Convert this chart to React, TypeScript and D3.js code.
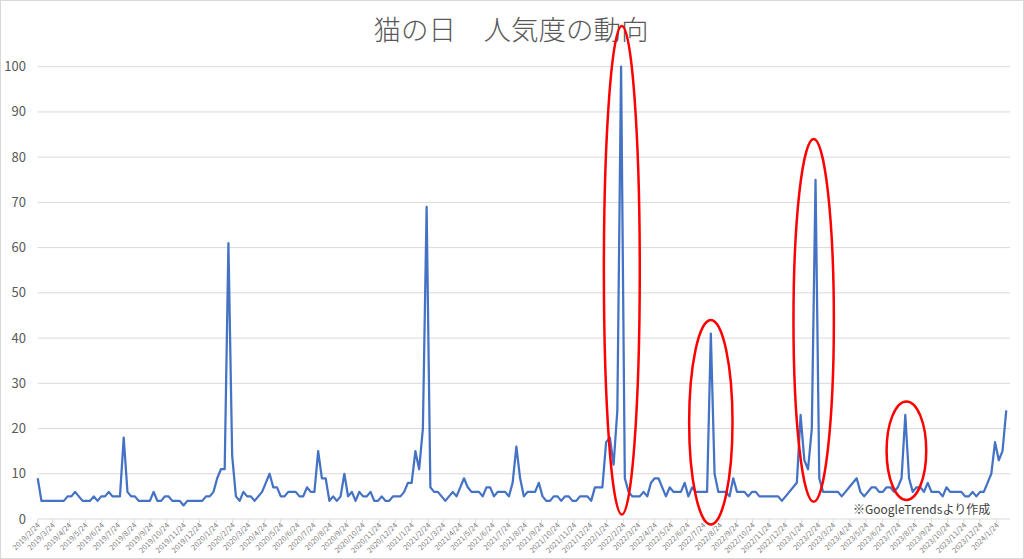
import React from "react";
import * as d3 from "d3";

const W = 1024;
const H = 559;

const startDate = new Date(Date.UTC(2019, 1, 24));
const endDate = new Date(Date.UTC(2024, 1, 18));

// weekly Google Trends values, starting week of 2019/2/24
const values: number[] = [
  9, 4, 4, 4, 4, 4, 4, 4, 5, 5, 6, 5, 4, 4, 4, 5, 4, 5, 5, 6,
  5, 5, 5, 18, 6, 5, 5, 4, 4, 4, 4, 6, 4, 4, 5, 5, 4, 4, 4, 3,
  4, 4, 4, 4, 4, 5, 5, 6, 9, 11, 11, 61, 14, 5, 4, 6, 5, 5, 4, 5,
  6, 8, 10, 7, 7, 5, 5, 6, 6, 6, 5, 5, 7, 6, 6, 15, 9, 9, 4, 5,
  4, 5, 10, 5, 6, 4, 6, 5, 5, 6, 4, 4, 5, 4, 4, 5, 5, 5, 6, 8,
  8, 15, 11, 20, 69, 7, 6, 6, 5, 4, 5, 6, 5, 7, 9, 7, 6, 6, 6, 5,
  7, 7, 5, 6, 6, 6, 5, 8, 16, 9, 5, 6, 6, 6, 8, 5, 4, 4, 5, 5,
  4, 5, 5, 4, 4, 5, 5, 5, 4, 7, 7, 7, 17, 18, 12, 24, 100, 9, 6, 5,
  5, 5, 6, 5, 8, 9, 9, 7, 5, 7, 6, 6, 6, 8, 5, 7, 6, 6, 6, 6,
  41, 10, 6, 6, 6, 5, 9, 6, 6, 6, 5, 6, 6, 5, 5, 5, 5, 5, 5, 4,
  5, 6, 7, 8, 23, 13, 11, 20, 75, 9, 6, 6, 6, 6, 6, 5, 6, 7, 8, 9,
  6, 5, 6, 7, 7, 6, 6, 7, 7, 6, 7, 9, 23, 9, 6, 7, 7, 6, 8, 6,
  6, 6, 5, 7, 6, 6, 6, 6, 5, 5, 6, 5, 6, 6, 8, 10, 17, 13, 15, 24,
];

const yTicks: number[] = [0, 10, 20, 30, 40, 50, 60, 70, 80, 90, 100];

// red annotation ellipses: week index of spike, value span, half width in weeks
const circleIdx: number[] = [156, 180, 208, 232];
const circleLo: number[] = [1, -1.2, 3.8, 4.2];
const circleHi: number[] = [109, 44, 84, 26];
const circleHalfWeeks: number[] = [4.8, 5.8, 5.4, 5.3];
const circleShiftWeeks: number[] = [0.2, 0, -0.5, 0.3];

const title = "猫の日　人気度の動向";
const note = "※GoogleTrendsより作成";

export default function App() {
  const x = d3.scaleUtc().domain([startDate, endDate]).range([37.7, 1010]);
  const y = d3.scaleLinear().domain([0, 100]).range([519, 66.7]);

  const dates = values.map((_, i) => d3.utcDay.offset(startDate, i * 7));
  const line = d3
    .line<number>()
    .x((_, i) => x(dates[i]))
    .y((v) => y(v));

  const monthTicks: Date[] = d3
    .range(0, 60)
    .map((m) => new Date(Date.UTC(2019, 1 + m, 24)));
  const fmt = d3.utcFormat("%Y/%-m/%-d");
  const weekPx = x(d3.utcDay.offset(startDate, 7)) - x(startDate);

  const fontJP = "'Noto Sans CJK JP', 'Noto Sans', sans-serif";

  return (
    <svg
      width={W}
      height={H}
      style={{ position: "absolute", left: 0, top: 0, background: "#fff" }}
    >
      <rect x={0.5} y={0.5} width={W - 1} height={H - 1} fill="#fff" stroke="#d9d9d9" />
      <text
        x={511}
        y={40}
        textAnchor="middle"
        fontSize={27.5}
        fontWeight={300}
        fill="#595959"
        fontFamily={fontJP}
      >
        {title}
      </text>
      {yTicks.map((t) => (
        <g key={t}>
          {t > 0 && (
            <line x1={37.7} x2={1010} y1={y(t)} y2={y(t)} stroke="#d9d9d9" strokeWidth={1} />
          )}
          <text
            x={26}
            y={y(t) + 4.5}
            textAnchor="end"
            fontSize={13}
            fill="#595959"
            fontFamily={fontJP}
          >
            {t}
          </text>
        </g>
      ))}
      <line x1={37.7} x2={1010} y1={y(0)} y2={y(0)} stroke="#d9d9d9" strokeWidth={1} />
      {monthTicks.map((d, i) => {
        const tx = x(d);
        return (
          <g key={i}>
            <line x1={tx} x2={tx} y1={y(0)} y2={y(0) + 4} stroke="#d9d9d9" />
            <text
              transform={`translate(${tx + 1},${y(0) + 5}) rotate(-45)`}
              textAnchor="end"
              fontSize={7.5}
              fill="#7f7f7f"
              fontFamily={fontJP}
              dy="0.35em"
            >
              {fmt(d)}
            </text>
          </g>
        );
      })}
      <path d={line(values) ?? ""} fill="none" stroke="#4472C4" strokeWidth={2.25} strokeLinejoin="round" />
      {circleIdx.map((idx, k) => {
        const cx = x(dates[idx]) + circleShiftWeeks[k] * weekPx;
        const top = y(circleHi[k]);
        const bot = y(circleLo[k]);
        return (
          <ellipse
            key={k}
            cx={cx}
            cy={(top + bot) / 2}
            rx={circleHalfWeeks[k] * weekPx}
            ry={(bot - top) / 2}
            fill="none"
            stroke="#ff0000"
            strokeWidth={2.5}
          />
        );
      })}
      <text x={853} y={514} fontSize={12} fill="#404040" fontFamily={fontJP}>
        {note}
      </text>
    </svg>
  );
}
